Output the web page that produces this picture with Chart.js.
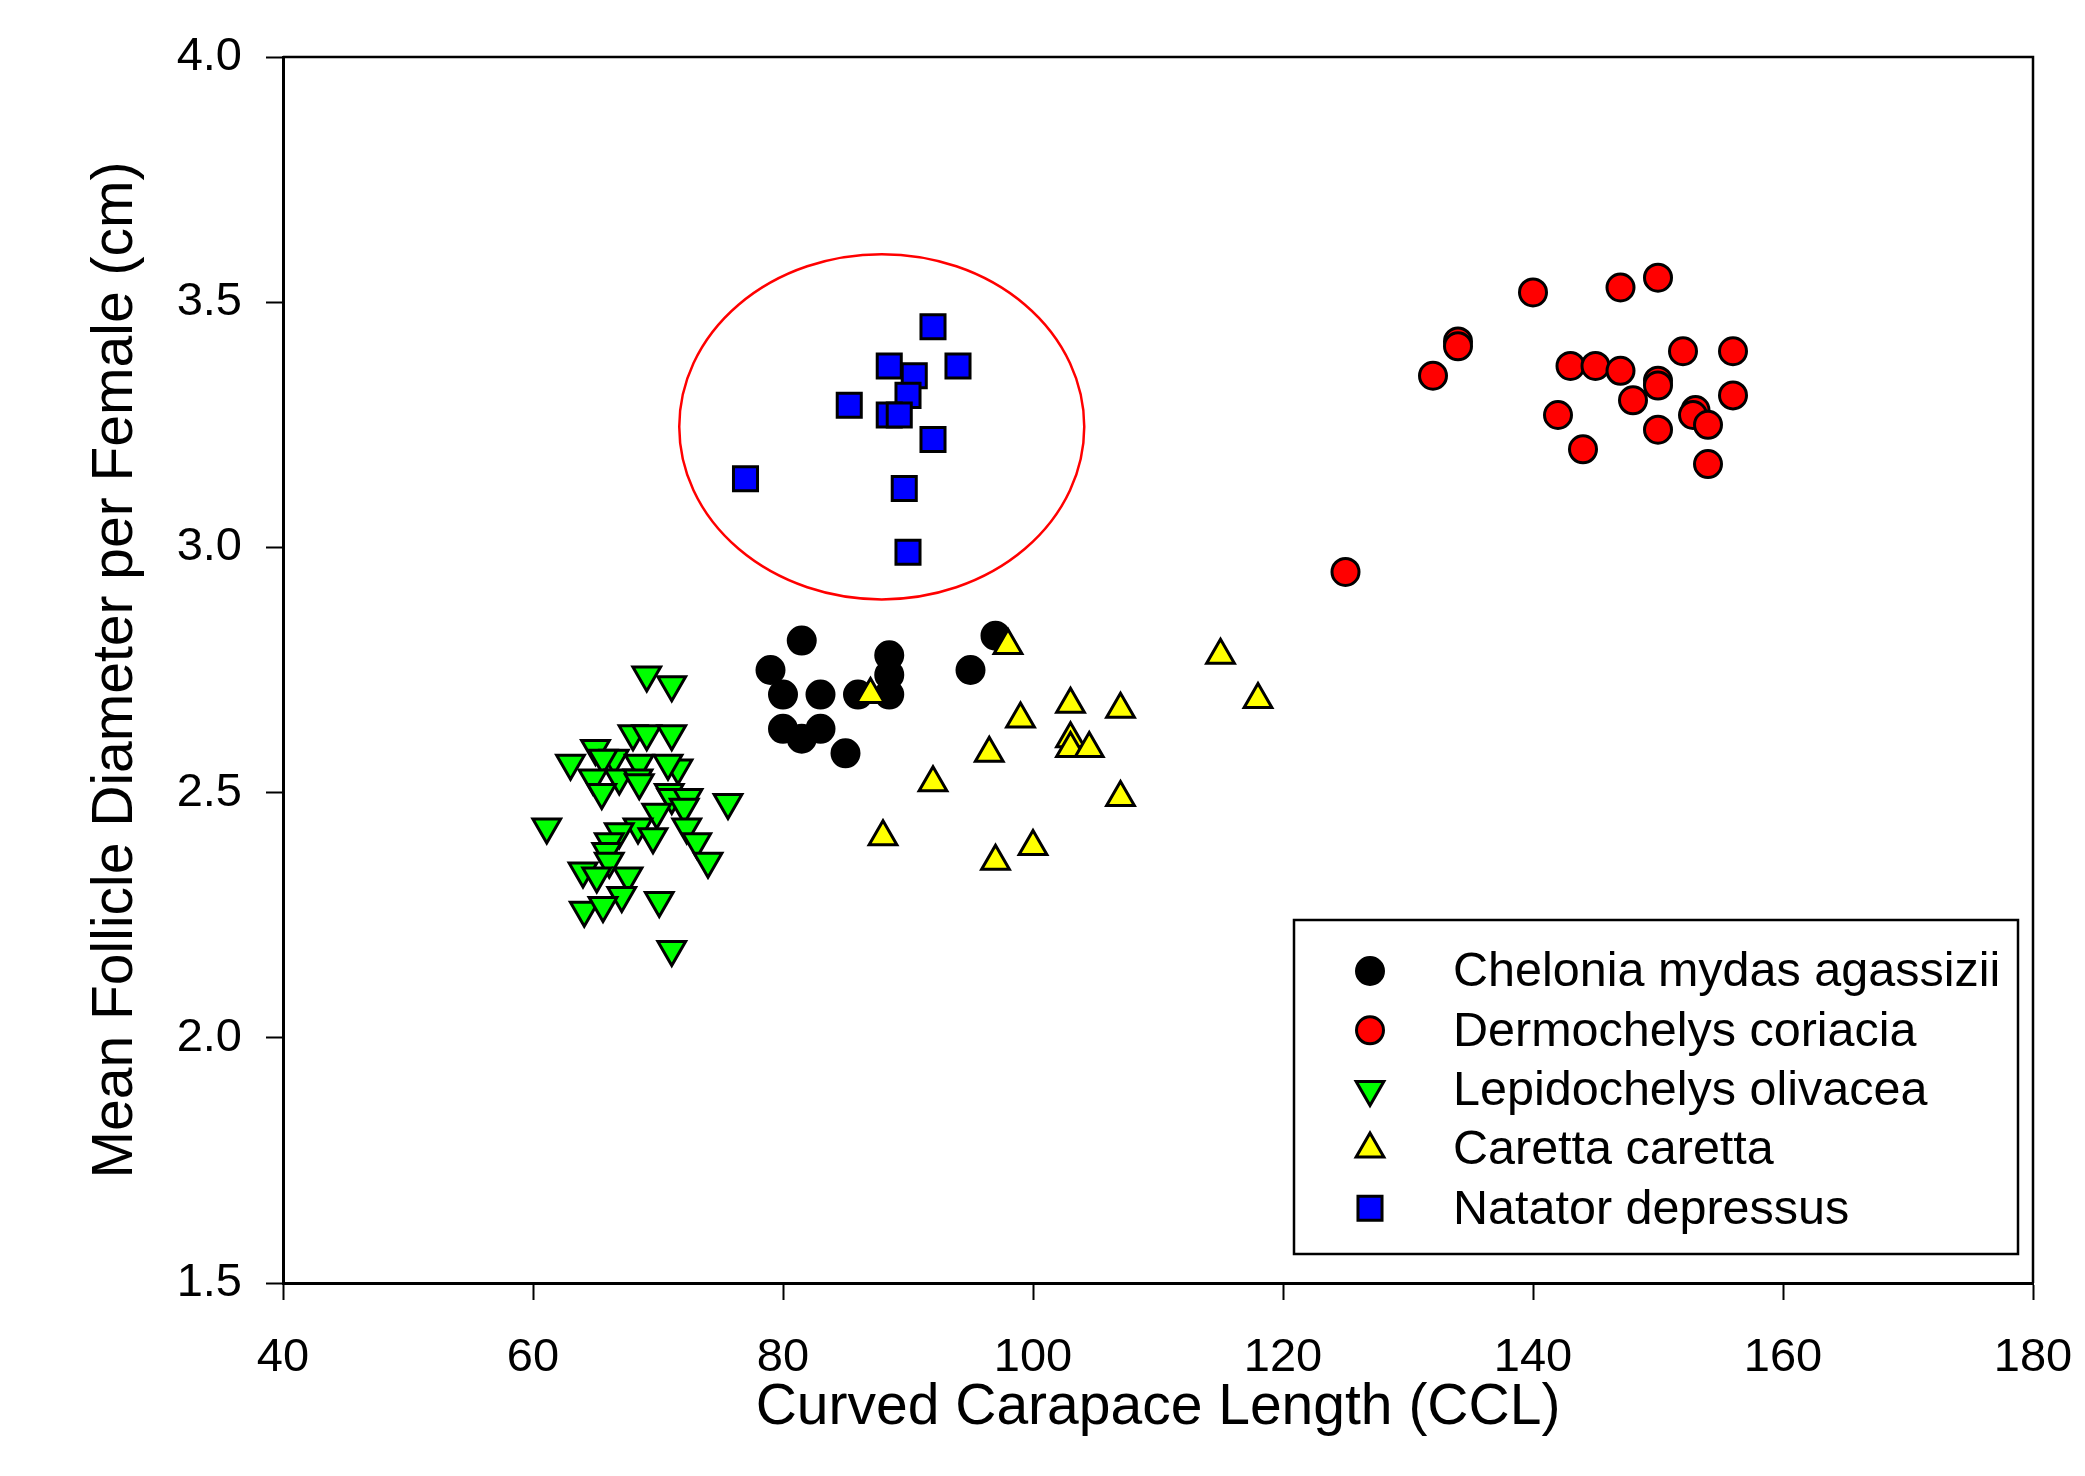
<!DOCTYPE html>
<html>
<head>
<meta charset="utf-8">
<script src="https://cdn.jsdelivr.net/npm/chart.js@4/dist/chart.umd.min.js"></script>
<style>
  body { margin: 0; background: #fff; }
  #wrap { width: 2085px; height: 1476px; }
</style>
</head>
<body>
<div id="wrap"><canvas id="chart" width="2085" height="1476"></canvas></div>
<script>
// species, in legend order
const species = ['Chelonia mydas agassizii', 'Dermochelys coriacia', 'Lepidochelys olivacea', 'Caretta caretta', 'Natator depressus'];

// curved carapace length (x) / mean follicle diameter (y)
const cheloniaX = [79.0, 81.5, 80.0, 83.0, 86.0, 88.5, 88.5, 88.5, 80.0, 81.5, 83.0, 85.0, 95.0, 97.0];
const cheloniaY = [2.75, 2.81, 2.70, 2.70, 2.70, 2.78, 2.74, 2.70, 2.63, 2.61, 2.63, 2.58, 2.75, 2.82];

const dermoX = [125, 132, 134, 134, 140, 143, 145, 142, 144, 147, 147, 150, 148, 150, 150, 150, 152, 156, 156, 153, 152.8, 154, 154];
const dermoY = [2.95, 3.35, 3.42, 3.41, 3.52, 3.37, 3.37, 3.27, 3.20, 3.53, 3.36, 3.55, 3.30, 3.34, 3.33, 3.24, 3.40, 3.40, 3.31, 3.28, 3.27, 3.25, 3.17];

const lepidoX = [69.1, 71.1, 68.0, 69.1, 71.1, 65.0, 63.0, 66.5, 68.5, 71.6, 65.6, 70.8, 64.8, 66.9, 68.4,
                 68.5, 65.5, 70.9, 71.1, 72.4, 75.6, 72.1, 69.9, 61.1, 68.4, 66.9, 72.3, 69.6, 73.1,
                 66.1, 65.9, 74.0, 66.1, 64.0, 65.1, 67.6, 67.1, 64.1, 65.6, 70.1, 71.1];
const lepidoY = [2.74, 2.72, 2.62, 2.62, 2.62, 2.59, 2.56, 2.57, 2.56, 2.55, 2.57, 2.56, 2.53, 2.53, 2.53,
                 2.52, 2.50, 2.50, 2.49, 2.49, 2.48, 2.47, 2.46, 2.43, 2.43, 2.42, 2.43, 2.41, 2.40,
                 2.40, 2.38, 2.36, 2.36, 2.34, 2.33, 2.33, 2.29, 2.26, 2.27, 2.28, 2.18];

const carettaX = [98, 87, 115, 118, 103, 107, 99, 103, 103, 104.5, 96.5, 92, 107, 88, 100, 97];
const carettaY = [2.80, 2.70, 2.78, 2.69, 2.68, 2.67, 2.65, 2.61, 2.59, 2.59, 2.58, 2.52, 2.49, 2.41, 2.39, 2.36];

const natatorX = [92, 88.5, 94, 90.5, 90, 85.3, 88.5, 89.3, 92, 77, 89.7, 90];
const natatorY = [3.45, 3.37, 3.37, 3.35, 3.31, 3.29, 3.27, 3.27, 3.22, 3.14, 3.12, 2.99];

// ellipse drawn round the Natator group (data units)
const ellipseCenter = [87.9, 3.246];
const ellipseRadii = [16.2, 0.352];

const xTicks = [40, 60, 80, 100, 120, 140, 160, 180];
const yTicks = [1.5, 2.0, 2.5, 3.0, 3.5, 4.0];

const FONT = 'Arial, "Liberation Sans", sans-serif';

function pts(xs, ys) {
  return xs.map((x, i) => ({ x: x, y: ys[i] }));
}

function dataset(label, xs, ys, color, style, radius, rotation, order) {
  return {
    label: label,
    data: pts(xs, ys),
    pointStyle: style,
    pointRadius: radius,
    pointHoverRadius: radius,
    pointRotation: rotation,
    backgroundColor: color,
    borderColor: '#000',
    pointBorderWidth: 3,
    borderWidth: 3,
    order: order
  };
}

// keep the plot box where the reference has it (no label overhang padding)
function noPad(s) {
  s.paddingLeft = 0; s.paddingRight = 0; s.paddingTop = 0; s.paddingBottom = 0;
}

// frame round the plot + the red ellipse
const frame = {
  id: 'frame',
  beforeDatasetsDraw(chart) {
    const { ctx, chartArea: a, scales } = chart;
    ctx.save();
    ctx.strokeStyle = '#000';
    ctx.lineWidth = 2.5;
    ctx.beginPath();
    ctx.moveTo(a.left, a.top);
    ctx.lineTo(a.right, a.top);
    ctx.lineTo(a.right, a.bottom);
    ctx.stroke();

    const cx = scales.x.getPixelForValue(ellipseCenter[0]);
    const cy = scales.y.getPixelForValue(ellipseCenter[1]);
    const rx = scales.x.getPixelForValue(ellipseCenter[0] + ellipseRadii[0]) - cx;
    const ry = cy - scales.y.getPixelForValue(ellipseCenter[1] + ellipseRadii[1]);
    ctx.strokeStyle = '#ff0000';
    ctx.lineWidth = 2.5;
    ctx.beginPath();
    ctx.ellipse(cx, cy, rx, ry, 0, 0, Math.PI * 2);
    ctx.stroke();
    ctx.restore();
  }
};

// boxed legend in the lower right of the plot
const legendBox = {
  id: 'legendBox',
  afterDraw(chart) {
    const { ctx, chartArea: a } = chart;
    const w = 724, h = 334;
    const right = a.right - 15, bottom = a.bottom - 29;
    const left = right - w, top = bottom - h;
    ctx.save();
    ctx.fillStyle = '#fff';
    ctx.fillRect(left, top, w, h);
    ctx.strokeStyle = '#000';
    ctx.lineWidth = 2.5;
    ctx.strokeRect(left, top, w, h);
    chart.data.datasets.forEach((ds, i) => {
      const y = top + 51 + i * 59.3;
      ctx.fillStyle = ds.backgroundColor;
      ctx.strokeStyle = '#000';
      ctx.lineWidth = 3;
      Chart.helpers.drawPoint(ctx, {
        pointStyle: ds.pointStyle,
        rotation: ds.pointRotation,
        radius: ds.pointRadius,
        borderWidth: 3
      }, left + 76, y);
      ctx.fillStyle = '#000';
      ctx.font = '48.5px ' + FONT;
      ctx.textBaseline = 'middle';
      ctx.textAlign = 'left';
      ctx.fillText(ds.label, left + 159, y + 2);
    });
    ctx.restore();
  }
};

new Chart(document.getElementById('chart'), {
  type: 'scatter',
  data: {
    datasets: [
      dataset(species[0], cheloniaX, cheloniaY, '#000000', 'circle', 13.5, 0, 5),
      dataset(species[1], dermoX, dermoY, '#ff0000', 'circle', 13.5, 0, 4),
      dataset(species[2], lepidoX, lepidoY, '#00ff00', 'triangle', 16, 180, 3),
      dataset(species[3], carettaX, carettaY, '#ffff00', 'triangle', 16, 0, 2),
      dataset(species[4], natatorX, natatorY, '#0000ff', 'rect', 17, 0, 1)
    ]
  },
  options: {
    responsive: false,
    animation: false,
    devicePixelRatio: 1,
    events: [],
    layout: { padding: { left: 0, right: 52, top: 57, bottom: 0 } },
    plugins: {
      legend: { display: false },
      tooltip: { enabled: false }
    },
    scales: {
      x: {
        type: 'linear',
        min: 40, max: 180,
        afterBuildTicks: s => { s.ticks = xTicks.map(v => ({ value: v })); },
        afterFit: s => { s.height = 193; noPad(s); },
        grid: { display: true, drawOnChartArea: false, drawTicks: true, tickLength: 17, tickWidth: 2, tickColor: '#000' },
        border: { display: true, color: '#000', width: 3 },
        ticks: { color: '#000', font: { family: FONT, size: 47 }, padding: 30, maxRotation: 0 },
        title: { display: true, text: 'Curved Carapace Length (CCL)', color: '#000', font: { family: FONT, size: 57 }, padding: { top: 0, bottom: 34 } }
      },
      y: {
        type: 'linear',
        min: 1.5, max: 4.0,
        afterBuildTicks: s => { s.ticks = yTicks.map(v => ({ value: v })); },
        afterFit: s => { s.width = 283; noPad(s); },
        grid: { display: true, drawOnChartArea: false, drawTicks: true, tickLength: 17, tickWidth: 2, tickColor: '#000' },
        border: { display: true, color: '#000', width: 3 },
        ticks: { color: '#000', font: { family: FONT, size: 47 }, padding: 24, callback: v => v.toFixed(1) },
        title: { display: true, text: 'Mean Follicle Diameter per Female (cm)', color: '#000', font: { family: FONT, size: 57 }, padding: { top: 82, bottom: 0 } }
      }
    }
  },
  plugins: [frame, legendBox]
});
</script>
</body>
</html>
